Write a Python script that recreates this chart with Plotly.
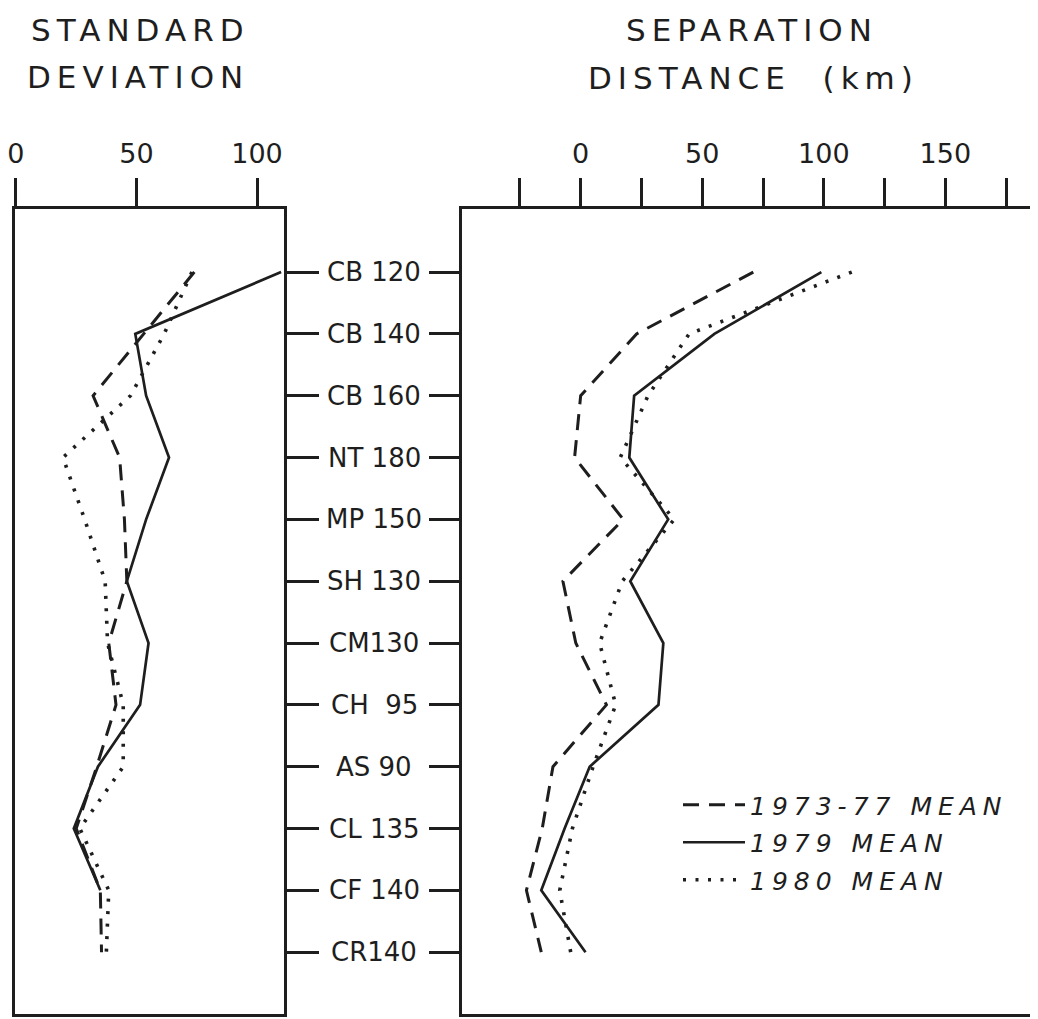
import plotly.graph_objects as go

# page offset (browser body margin) compensation
OFF = 8
W, H = 1038 - OFF, 1019 - OFF

stations = ["CB 120", "CB 140", "CB 160", "NT 180", "MP 150", "SH 130",
            "CM130", "CH  95", "AS 90", "CL 135", "CF 140", "CR140"]

series_names = ["1973-77 MEAN", "1979 MEAN", "1980 MEAN"]

# Standard deviation (left panel)
sd_7377 = [74, 53, 32, 43, 45, 46, 38.5, 41.5, 33.5, 25, 35, 35.5]
sd_1979 = [110, 49.5, 54, 63.5, 54, 46, 55, 51.5, 34, 24, 35, None]
sd_1980 = [73, 61.5, 47.5, 19.5, 28.5, 37, 38, 44.5, 44.5, 26.5, 38.5, 37.5]

# Separation distance, km (right panel)
sep_7377 = [71, 23, 0, -2.5, 17.5, -7.3, -2, 10.6, -11.4, -15.8, -22.3, -16.2]
sep_1979 = [99, 55, 22, 20, 36, 20.4, 34, 32, 3.7, -6.6, -16.2, 2]
sep_1980 = [111.5, 44.6, 27.7, 16.3, 38.5, 17.1, 7.8, 14.4, 5.1, -3.4, -8.6, -4.1]

sd_ticks = [0, 50, 100]
sep_ticks = [-25, 0, 25, 50, 75, 100, 125, 150, 175]
sep_ticklabels = ["", "0", "", "50", "", "100", "", "150", ""]

INK = "#1e1e1e"
FONT = "DejaVu Sans"
idx = list(range(len(stations)))

styles = [
    dict(color=INK, width=3, dash="16px,10px"),
    dict(color=INK, width=2.7, dash="solid"),
    dict(color=INK, width=3.6, dash="3px,9.5px"),
]

fig = go.Figure()
for name, vals, st in zip(series_names, [sd_7377, sd_1979, sd_1980], styles):
    fig.add_trace(go.Scatter(x=vals, y=idx, mode="lines", line=st, name=name,
                             showlegend=False, xaxis="x", yaxis="y",
                             hoverinfo="skip"))
for name, vals, st in zip(series_names, [sep_7377, sep_1979, sep_1980], styles):
    fig.add_trace(go.Scatter(x=vals, y=idx, mode="lines", line=st,
                             name='<span style="letter-spacing:6px">' + name + '</span>',
                             showlegend=True, legendgroup=name,
                             xaxis="x2", yaxis="y2", hoverinfo="skip"))

def px_x(p):
    return (p - OFF) / W

def px_y(p):
    return 1 - (p - OFF) / H

common_x = dict(side="top", ticks="outside", ticklen=28, tickwidth=2.5,
                tickcolor=INK, showline=True, linewidth=3, linecolor=INK,
                mirror=True, showgrid=False, zeroline=False, automargin=False,
                ticklabeloverflow="allow",
                tickfont=dict(family=FONT, size=27, color=INK), ticklabelstandoff=4)
common_y = dict(ticks="outside", tickwidth=2.5, tickcolor=INK, showline=True,
                linewidth=3, linecolor=INK, mirror=True, showgrid=False,
                zeroline=False, showticklabels=False, automargin=False,
                range=[12.0, -1.02], tickvals=idx)

fig.update_layout(
    width=W, height=H,
    margin=dict(l=0, r=0, t=0, b=0),
    paper_bgcolor="white", plot_bgcolor="white",
    xaxis=dict(domain=[px_x(15), px_x(284)], range=[-0.4, 111.2],
               tickvals=sd_ticks, anchor="y", **common_x),
    yaxis=dict(domain=[px_y(1014), px_y(209)], side="right", ticklen=32,
               anchor="x", **common_y),
    xaxis2=dict(domain=[px_x(462), px_x(1030)], range=[-48.8, 184.8],
                tickvals=sep_ticks, ticktext=sep_ticklabels, anchor="y2",
                **common_x),
    yaxis2=dict(domain=[px_y(1014), px_y(209)], side="left", ticklen=30,
                anchor="x2", matches="y", **common_y),
    showlegend=True,
    legend=dict(x=px_x(678), y=px_y(782), xanchor="left", yanchor="top",
                bgcolor="rgba(0,0,0,0)", tracegroupgap=2, itemwidth=62,
                font=dict(family=FONT, size=25, color=INK, style="italic")),
)

# station labels between the panels
for i, s in enumerate(stations):
    fig.add_annotation(x=px_x(374), xref="paper", y=i, yref="y", text=s,
                       showarrow=False, xanchor="center", yanchor="middle",
                       font=dict(family=FONT, size=26, color=INK))

titles = [("STANDARD", 140, 30), ("DEVIATION", 138, 77),
          ("SEPARATION", 752, 30), ("DISTANCE  (km)", 753, 78)]
for t, cx, cy in titles:
    fig.add_annotation(x=px_x(cx), y=px_y(cy), xref="paper", yref="paper",
                       text='<span style="letter-spacing:6px">' + t + '</span>',
                       showarrow=False, xanchor="center", yanchor="middle",
                       font=dict(family=FONT, size=31, color=INK))

fig.write_html("out.html")
